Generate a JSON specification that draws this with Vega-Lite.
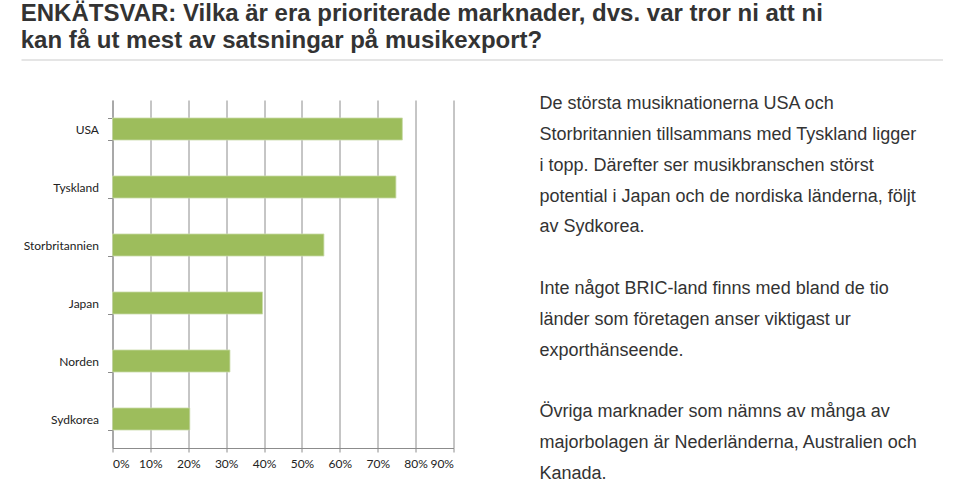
{
  "$schema": "https://vega.github.io/schema/vega-lite/v6.json",
  "padding": {"left": 20.5, "top": 2, "right": 0, "bottom": 0},
  "background": "white",
  "title": {
    "text": ["ENKÄTSVAR: Vilka är era prioriterade marknader, dvs. var tror ni att ni", "kan få ut mest av satsningar på musikexport?"],
    "anchor": "start",
    "frame": "bounds",
    "font": "Liberation Sans",
    "fontSize": 24,
    "fontWeight": "bold",
    "color": "#333333",
    "lineHeight": 27,
    "offset": 6
  },
  "datasets": {
    "bars": [
      {"land": "USA", "andel": 0.765},
      {"land": "Tyskland", "andel": 0.748},
      {"land": "Storbritannien", "andel": 0.558},
      {"land": "Japan", "andel": 0.396},
      {"land": "Norden", "andel": 0.310},
      {"land": "Sydkorea", "andel": 0.204}
    ],
    "lines": [
      {"rad": 1, "text": "De största musiknationerna USA och"},
      {"rad": 2, "text": "Storbritannien tillsammans med Tyskland ligger"},
      {"rad": 3, "text": "i topp. Därefter ser musikbranschen störst"},
      {"rad": 4, "text": "potential i Japan och de nordiska länderna, följt"},
      {"rad": 5, "text": "av Sydkorea."},
      {"rad": 7, "text": "Inte något BRIC-land finns med bland de tio"},
      {"rad": 8, "text": "länder som företagen anser viktigast ur"},
      {"rad": 9, "text": "exporthänseende."},
      {"rad": 11, "text": "Övriga marknader som nämns av många av"},
      {"rad": 12, "text": "majorbolagen är Nederländerna, Australien och"},
      {"rad": 13, "text": "Kanada."}
    ],
    "sep": [{"s": 0}]
  },
  "config": {
    "view": {"stroke": null},
    "axis": {"domainColor": "#8c8c8c", "tickColor": "#8c8c8c", "gridColor": "#8c8c8c", "labelFont": "Lato", "labelColor": "#222222", "labelFontSize": 12}
  },
  "spacing": 33,
  "vconcat": [
    {
      "width": 831,
      "height": 1,
      "data": {"name": "sep"},
      "mark": {"type": "rule", "color": "#dddddd", "strokeWidth": 1.5},
      "encoding": {
        "x": {"datum": 0, "type": "quantitative", "scale": {"domain": [0, 1], "range": [-91, 830.5]}, "axis": null},
        "x2": {"datum": 1},
        "y": {"datum": 0, "type": "quantitative", "scale": {"domain": [0, 1]}, "axis": null}
      }
    },
    {
      "bounds": "flush",
      "spacing": 86,
      "hconcat": [
        {
          "width": 341,
          "height": 348,
          "data": {"name": "bars"},
          "mark": {"type": "bar", "color": "#9dbd5c", "stroke": "#c9dbaa", "strokeWidth": 0.8},
          "encoding": {
            "y": {
              "field": "land", "type": "nominal", "sort": null, "title": null,
              "scale": {"paddingInner": 0.62, "paddingOuter": 0.31},
              "axis": {"tickBand": "extent", "tickSize": 5, "labelPadding": 9, "domain": true, "ticks": true}
            },
            "x": {
              "field": "andel", "type": "quantitative", "title": null,
              "scale": {"domain": [0, 0.9], "nice": false},
              "axis": {"values": [0, 0.1, 0.2, 0.3, 0.4, 0.5, 0.6, 0.7, 0.8, 0.9], "format": ".0%", "grid": true, "tickSize": 4, "labelPadding": 6, "gridWidth": 1, "labelOverlap": false}
            }
          }
        },
        {
          "width": 420,
          "height": 390,
          "data": {"name": "lines"},
          "mark": {"type": "text", "align": "left", "baseline": "alphabetic", "font": "Liberation Sans", "fontSize": 18, "color": "#333333"},
          "encoding": {
            "x": {"datum": 0, "type": "quantitative", "scale": {"domain": [0, 1]}, "axis": null},
            "y": {"field": "rad", "type": "quantitative", "scale": {"domain": [1, 13], "range": [9, 379]}, "axis": null},
            "text": {"field": "text", "type": "nominal"}
          }
        }
      ]
    }
  ]
}
